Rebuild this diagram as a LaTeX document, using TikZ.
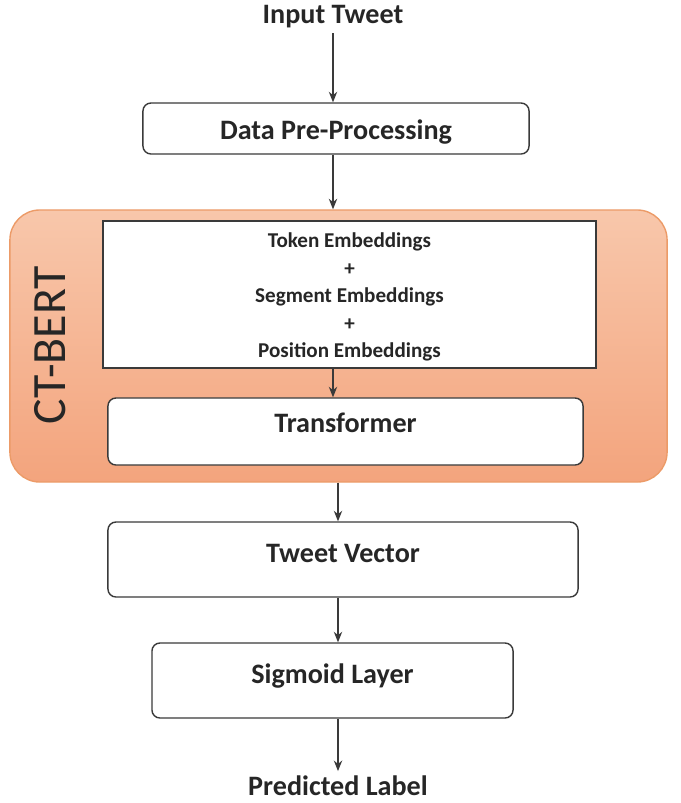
\documentclass[tikz,border=0pt]{standalone}
\usepackage{fontspec}
\setmainfont{Carlito}
\usetikzlibrary{arrows.meta}
\definecolor{bertTop}{HTML}{F8C7AB}
\definecolor{bertBot}{HTML}{F3A47D}
\definecolor{bertEdge}{HTML}{EC9B68}
\definecolor{ink}{HTML}{262626}
\definecolor{edge}{HTML}{3A3A3A}

\begin{document}
\begin{tikzpicture}[x=0.025cm,y=-0.025cm,
  >={Stealth[length=7.5pt,width=6pt]},
  txt/.style={font=\fontsize{20}{24}\selectfont\bfseries,text=ink},
  box/.style={txt,draw=edge,line width=1pt,fill=white,rounded corners=0.2cm,inner sep=0pt},
  flow/.style={->,draw=edge,line width=0.8pt}]
\useasboundingbox (0,0) rectangle (681,803);

\node[txt] (in) at (333,17) {Input Tweet};
\node[box,minimum width=9.65cm,text height=0.9cm,text depth=0.375cm] (pre) at (336,128.5) {Data Pre-Processing};

\node[draw=bertEdge,line width=1pt,rounded corners=0.75cm,top color=bertTop,bottom color=bertBot,
  minimum width=16.425cm,minimum height=6.8cm,inner sep=0pt] (bert) at (338.5,346) {};
\node[rotate=90,font=\fontsize{34}{40}\selectfont,text=ink] (name) at (50,345) {CT-BERT};
\node[draw=edge,line width=1pt,fill=white,minimum width=12.325cm,minimum height=3.675cm,inner sep=0pt,
  align=center,font=\fontsize{15}{19.6}\selectfont\bfseries,text=ink] (emb) at (349.5,294.5)
  {\rule{0pt}{0.5cm}Token Embeddings\\+\\Segment Embeddings\\+\\Position Embeddings};
\node[box,minimum width=11.875cm,text height=0.85cm,text depth=0.825cm] (trans) at (345.5,431.5) {Transformer};

\node[box,minimum width=11.75cm,text height=1.0cm,text depth=0.875cm] (vec) at (343,559.5) {Tweet Vector};
\node[box,minimum width=9.025cm,text height=1.0cm,text depth=0.875cm] (sig) at (332.5,680.5) {Sigmoid Layer};
\node[txt] (out) at (338,786) {Predicted Label};

\draw[flow] (in) -- (in |- pre.north);
\draw[flow] (in |- pre.south) -- (in |- bert.north);
\draw[flow] (in |- emb.south) -- (in |- trans.north);
\draw[flow] (out |- bert.south) -- (out |- vec.north);
\draw[flow] (out |- vec.south) -- (out |- sig.north);
\draw[flow] (out |- sig.south) -- (out);
\end{tikzpicture}
\end{document}
